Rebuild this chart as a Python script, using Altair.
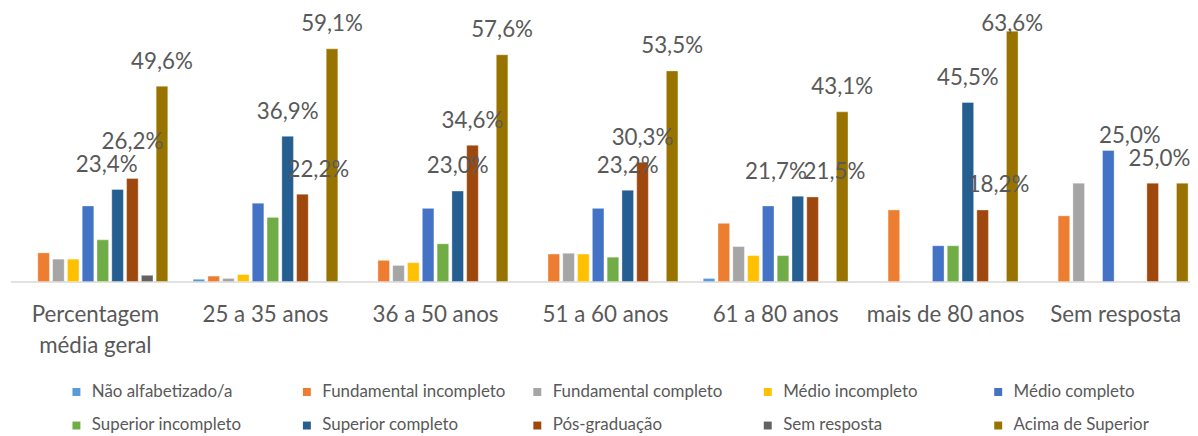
import altair as alt
import pandas as pd

groups = ["Percentagem média geral", "25 a 35 anos", "36 a 50 anos", "51 a 60 anos",
          "61 a 80 anos", "mais de 80 anos", "Sem resposta"]

series = ["Não alfabetizado/a", "Fundamental incompleto", "Fundamental completo",
          "Médio incompleto", "Médio completo", "Superior incompleto",
          "Superior completo", "Pós-graduação", "Sem resposta", "Acima de Superior"]

colors = ["#5B9BD5", "#ED7D31", "#A5A5A5", "#FFC000", "#4472C4", "#70AD47",
          "#255E91", "#9E480E", "#636363", "#997300"]

nao_alfabetizado = [0, 0.6, 0, 0, 0.8, 0, 0]
fund_incompleto = [7.3, 1.4, 5.4, 7.0, 14.8, 18.2, 16.7]
fund_completo = [5.7, 0.8, 4.1, 7.2, 8.9, 0, 25.0]
medio_incompleto = [5.7, 1.8, 4.8, 7.0, 6.6, 0, 0]
medio_completo = [19.2, 19.9, 18.6, 18.6, 19.2, 9.1, 33.3]
sup_incompleto = [10.6, 16.3, 9.6, 6.2, 6.6, 9.1, 0]
sup_completo = [23.4, 36.9, 23.0, 23.2, 21.7, 45.5, 0]
pos_graduacao = [26.2, 22.2, 34.6, 30.3, 21.5, 18.2, 25.0]
sem_resposta = [1.6, 0, 0, 0, 0, 0, 0]
acima_superior = [49.6, 59.1, 57.6, 53.5, 43.1, 63.6, 25.0]

labelled_series = ["Superior completo", "Pós-graduação", "Acima de Superior"]

all_values = [nao_alfabetizado, fund_incompleto, fund_completo, medio_incompleto,
              medio_completo, sup_incompleto, sup_completo, pos_graduacao,
              sem_resposta, acima_superior]

rows = []
for s, vals in zip(series, all_values):
    for g, v in zip(groups, vals):
        rows.append({"grupo": g, "serie": s, "valor": v})
df = pd.DataFrame(rows)

font = "Lato"
txt_color = "#595959"
last_group = groups[-1]

x_enc = alt.X(
    "grupo:N", sort=groups,
    scale=alt.Scale(domain=groups, paddingInner=0.13, paddingOuter=0.065, range=[0, 1198.4]),
    axis=alt.Axis(
        title=None, ticks=False, domainColor="#D9D9D9", domainWidth=1.5,
        labelFont=font, labelFontSize=22.5, labelColor=txt_color, labelPadding=22,
        labelLineHeight=31, labelAngle=0, labelLimit=400,
        labelExpr="datum.label == 'Percentagem média geral' ? ['Percentagem', 'média geral'] : datum.label",
    ),
)
xoff_enc = alt.XOffset("serie:N", sort=series,
                       scale=alt.Scale(domain=series, paddingInner=0.215, paddingOuter=0.1075))
y_scale = alt.Scale(domain=[0, 68], nice=False, zero=True)

base = alt.Chart(df)

bars = base.transform_filter("datum.valor > 0").mark_bar(
    stroke="white", strokeWidth=0.6, strokeOpacity=0.6
).encode(
    x=x_enc,
    xOffset=xoff_enc,
    y=alt.Y("valor:Q", scale=y_scale, axis=None),
    color=alt.Color(
        "serie:N", sort=series,
        scale=alt.Scale(domain=series, range=colors),
        legend=alt.Legend(
            title=None, orient="none", legendX=58, legendY=372,
            direction="horizontal", columns=5, gridAlign="all",
            symbolType="square", symbolSize=64, symbolStrokeWidth=0,
            labelFont=font, labelFontSize=17, labelColor=txt_color,
            labelOffset=7, columnPadding=23, rowPadding=16, padding=0,
            labelLimit=400,
        ),
    ),
)

# Excel-like label nudging to avoid collisions between neighbouring labels
labels = base.transform_filter(
    alt.FieldOneOfPredicate(field="serie", oneOf=labelled_series)
).transform_calculate(
    s_v="datum.serie == 'Superior completo' ? datum.valor : 0",
    p_v="datum.serie == 'Pós-graduação' ? datum.valor : 0",
    a_v="datum.serie == 'Acima de Superior' ? datum.valor : 0",
).transform_joinaggregate(
    S="sum(s_v)", P="sum(p_v)", A="sum(a_v)", groupby=["grupo"]
).transform_filter("datum.valor > 0").transform_calculate(
    d="abs(datum.S - datum.P)",
).transform_calculate(
    rotulo="replace(format(datum.valor, '.1f'), '.', ',') + '%'",
    ldx=(
        "(datum.serie == 'Superior completo' ? (datum.d < 1 ? -22 : datum.d < 4 ? -11 : 0) : "
        "datum.serie == 'Pós-graduação' ? (datum.d < 1 ? 22 : datum.S > datum.P + 4 ? 16 : 0) : 0)"
        f" + (datum.grupo == '{last_group}' ? -23 : 0)"
    ),
    raise_v=(
        "datum.serie == 'Pós-graduação' ? ((datum.d >= 1 && datum.d < 4) ? 3.0 : "
        "abs(datum.P - datum.A) < 4 ? 5.7 : 0) : 0"
    ),
).transform_calculate(
    pos_y="min(datum.valor + 4.46 + datum.raise_v, 63.56)",
).mark_text(
    font=font, fontSize=22.5, color=txt_color, align="center", baseline="alphabetic",
    dx={"expr": "datum.ldx"},
).encode(
    x=x_enc,
    xOffset=xoff_enc,
    y=alt.Y("pos_y:Q", scale=y_scale, axis=None),
    text="rotulo:N",
)

chart = alt.layer(bars, labels).properties(
    width=1187.6, height=269.6,
    autosize=alt.AutoSizeParams(type="none"),
    padding={"left": 2.4, "top": 4.4, "right": 0, "bottom": 154},
    background="white",
).configure_view(stroke=None)

chart.save("out.html", embed_options={"renderer": "svg", "actions": False})
